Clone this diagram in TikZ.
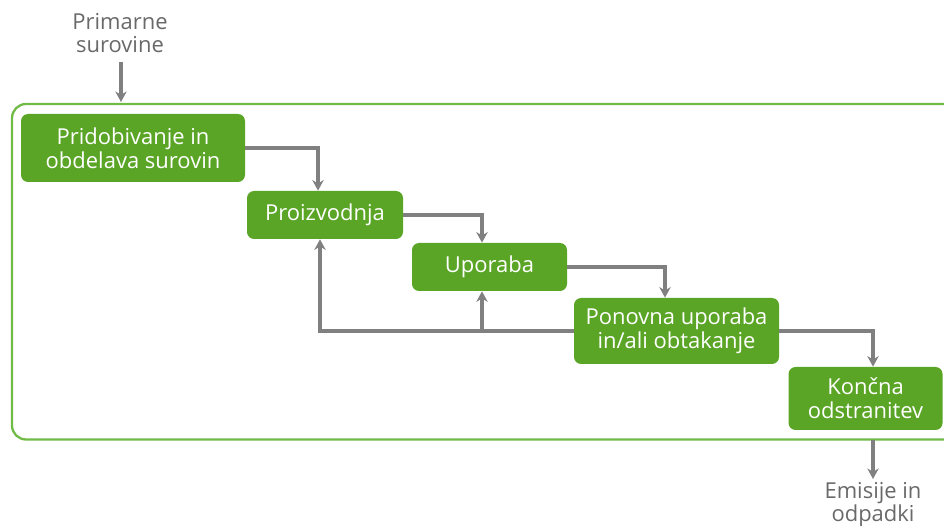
\documentclass[tikz,border=0pt]{standalone}
\usepackage{fontspec}
\setmainfont{Open Sans}
\usepackage{xcolor}
\usetikzlibrary{calc,positioning,arrows.meta}

\definecolor{boxgreen}{RGB}{90,165,38}
\definecolor{framegreen}{RGB}{112,186,70}
\definecolor{linegray}{RGB}{128,128,128}
\definecolor{textgray}{RGB}{105,105,105}

\begin{document}
\begin{tikzpicture}[>={Stealth[length=6pt,width=6.5pt]},
    stage/.style={rectangle, fill=boxgreen, text=white, align=center, rounded corners=4pt, inner sep=0pt, font=\fontsize{12.5}{13.5}\selectfont},
    extern/.style={align=center, text=textgray, inner sep=0pt, font=\fontsize{12.5}{13}\selectfont},
    arrow/.style={->, draw=linegray, line width=1.9pt}]

    \path[use as bounding box, clip] (0,0) rectangle (18.88,-10.52);

    % frame round the life cycle
    \draw[framegreen, line width=1.3pt, rounded corners=8pt] (0.24,-2.08) rectangle (20,-8.79);

    \node [stage, minimum width=4.48cm, minimum height=1.36cm] at (2.66,-2.96) (extract) {Pridobivanje in\\obdelava surovin};
    \node [stage, minimum width=3.12cm, minimum height=0.96cm] at (6.50,-4.30) (prod) {Proizvodnja};
    \node [stage, minimum width=3.10cm, minimum height=0.96cm] at (9.79,-5.34) (use) {Uporaba};
    \node [stage, minimum width=4.10cm, minimum height=1.32cm] at (13.53,-6.62) (reuse) {Ponovna uporaba\\in/ali obtakanje};
    \node [stage, minimum width=3.08cm, minimum height=1.26cm] at (17.31,-7.97) (disp) {Končna\\odstranitev};

    \node [extern] at (2.40,-0.66) (raw) {Primarne\\surovine};
    \node [extern] at (17.46,-10.10) (emis) {Emisije in\\odpadki};

    \coordinate (in)  at (2.42,-2.04);
    \coordinate (out) at (17.46,-9.58);
    \coordinate (join) at (6.40,-6.62);
    \coordinate (fork) at (9.64,-6.62);

    \draw [arrow] (in |- 0,-1.24) -- (in);
    \draw [arrow] (extract.east) -| ([xshift=-0.14cm]prod.north);
    \draw [arrow] (prod.east) -| ([xshift=-0.15cm]use.north);
    \draw [arrow] (use.east) -| ([xshift=-0.23cm]reuse.north);
    \draw [arrow] (reuse.east) -| ([xshift=0.15cm]disp.north);
    \draw [arrow] (out |- 0,-8.80) -- (out);

    % return loops
    \draw [arrow] (reuse.west) -- (join) -- (join |- prod.south);
    \draw [arrow] (fork) -- (fork |- use.south);
\end{tikzpicture}
\end{document}
